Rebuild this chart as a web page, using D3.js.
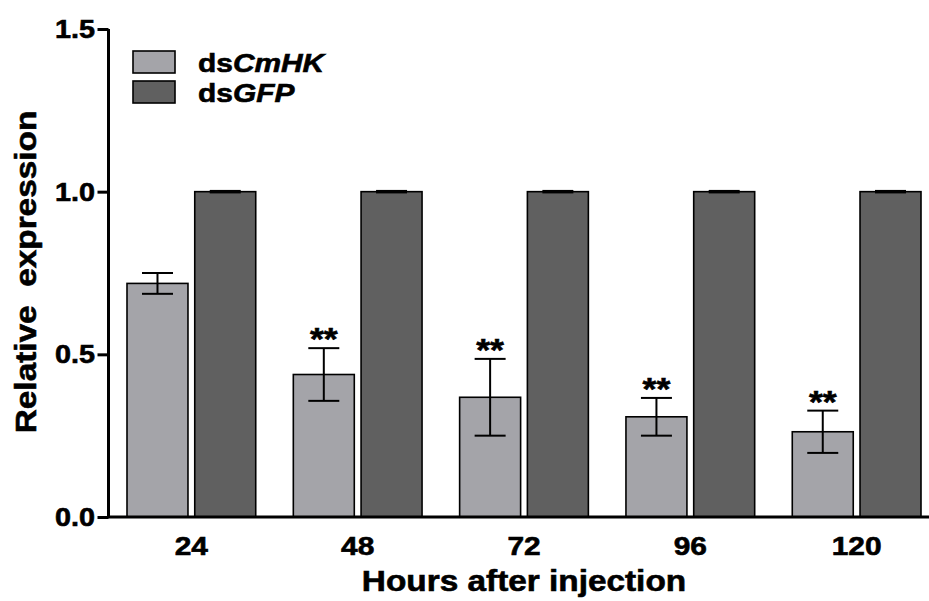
<!DOCTYPE html>
<html>
<head>
<meta charset="utf-8">
<script src="https://cdn.jsdelivr.net/npm/d3@7"></script>
<style>
  body { margin: 0; background: #fff; }
  text { font-family: "Liberation Sans", Arial, sans-serif; font-weight: bold; fill: #000; stroke: #000; stroke-width: 0.6px; }
</style>
</head>
<body>
<svg id="chart" width="929" height="601"></svg>
<script>
// chart values
const hours = ['24', '48', '72', '96', '120'];
const seriesNames = ['dsCmHK', 'dsGFP'];
const dsCmHK = [0.718, 0.438, 0.368, 0.308, 0.262];
const dsCmHKErr = [0.032, 0.081, 0.118, 0.058, 0.065];
const dsGFP = [1, 1, 1, 1, 1];
const dsGFPErr = [0, 0, 0, 0, 0];
const stars = ['', '**', '**', '**', '**'];
const yTicks = [0, 0.5, 1.0, 1.5];

const width = 929, height = 601;
const colors = { dsCmHK: '#a4a4a9', dsGFP: '#606060' };
const sx = 1.15; // reference font runs a bit wider than Arial

const svg = d3.select('#chart');

// Scales
const y = d3.scaleLinear().domain([0, 1.5]).range([517, 29]);
const x0 = d3.scaleBand().domain(hours).range([127, 921]).paddingInner(0.226);
const x1 = d3.scaleBand().domain(seriesNames).range([0, x0.bandwidth()]).paddingInner(0.1);

// rows for drawing
const rows = hours.map((h, i) => ({
  h,
  star: stars[i],
  bars: [
    { key: 'dsCmHK', v: dsCmHK[i], e: dsCmHKErr[i] },
    { key: 'dsGFP', v: dsGFP[i], e: dsGFPErr[i] }
  ]
}));

// helper for wide text
function wideText(sel, tx, ty, str, size, anchor, rot) {
  const g = sel.append('g')
    .attr('transform', `translate(${tx},${ty})${rot ? ' rotate(' + rot + ')' : ''} scale(${sx},1)`);
  return g.append('text')
    .attr('text-anchor', anchor)
    .style('font-size', size + 'px')
    .text(str);
}

// Bars
const groups = svg.selectAll('g.grp')
  .data(rows)
  .enter()
  .append('g')
  .attr('class', 'grp')
  .attr('transform', d => `translate(${x0(d.h)},0)`);

groups.selectAll('rect')
  .data(d => d.bars)
  .enter()
  .append('rect')
  .attr('x', d => x1(d.key))
  .attr('y', d => y(d.v))
  .attr('width', x1.bandwidth())
  .attr('height', d => y(0) - y(d.v))
  .attr('fill', d => colors[d.key])
  .attr('stroke', '#000')
  .attr('stroke-width', 1.6);

// Error bars
const capW = 31;
groups.each(function (d) {
  const g = d3.select(this);
  d.bars.forEach(b => {
    const cx = x1(b.key) + x1.bandwidth() / 2;
    if (b.e > 0) {
      g.append('line')
        .attr('x1', cx).attr('x2', cx)
        .attr('y1', y(b.v + b.e)).attr('y2', y(b.v - b.e))
        .attr('stroke', '#000').attr('stroke-width', 2);
      [b.v + b.e, b.v - b.e].forEach(v => {
        g.append('line')
          .attr('x1', cx - capW / 2).attr('x2', cx + capW / 2)
          .attr('y1', y(v)).attr('y2', y(v))
          .attr('stroke', '#000').attr('stroke-width', 2);
      });
    } else {
      g.append('line')
        .attr('x1', cx - capW / 2).attr('x2', cx + capW / 2)
        .attr('y1', y(b.v)).attr('y2', y(b.v))
        .attr('stroke', '#000').attr('stroke-width', 3.5);
    }
  });
  if (d.star) {
    const b = d.bars[0];
    wideText(g, x1(b.key) + x1.bandwidth() / 2, y(b.v + b.e) + 2, d.star, 31, 'middle');
  }
});

// Y axis
const yAxis = svg.append('g')
  .attr('transform', 'translate(108.5,0)')
  .call(d3.axisLeft(y).tickValues(yTicks).tickFormat(d3.format('.1f')).tickSize(11).tickPadding(3));
yAxis.select('.domain').attr('stroke-width', 3).attr('d', `M0,${y(1.5)}V${y(0)}`);
yAxis.selectAll('.tick line').attr('stroke-width', 3);
yAxis.selectAll('.tick text').remove();
yTicks.forEach(t => {
  wideText(svg, 95, y(t) + 9, d3.format('.1f')(t), 25, 'end');
});

// X axis
svg.append('line')
  .attr('x1', 107).attr('x2', width)
  .attr('y1', y(0)).attr('y2', y(0))
  .attr('stroke', '#000').attr('stroke-width', 3);
hours.forEach(h => {
  wideText(svg, x0(h) + x0.bandwidth() / 2, 555, h, 26, 'middle');
});

// Axis titles
wideText(svg, 524, 591, 'Hours after injection', 29, 'middle');
wideText(svg, 36, 272, 'Relative\u00a0 expression', 29, 'middle', -90);

// Legend
const legend = svg.append('g');
seriesNames.forEach((s, i) => {
  const ly = 51 + i * 30;
  legend.append('rect')
    .attr('x', 133).attr('y', ly)
    .attr('width', 42).attr('height', 22)
    .attr('fill', colors[s])
    .attr('stroke', '#000').attr('stroke-width', 1.6);
  const t = wideText(legend, 198, ly + 21, '', 26, 'start');
  t.append('tspan').text('ds');
  t.append('tspan').style('font-style', 'italic').text(s.slice(2));
});
</script>
</body>
</html>
